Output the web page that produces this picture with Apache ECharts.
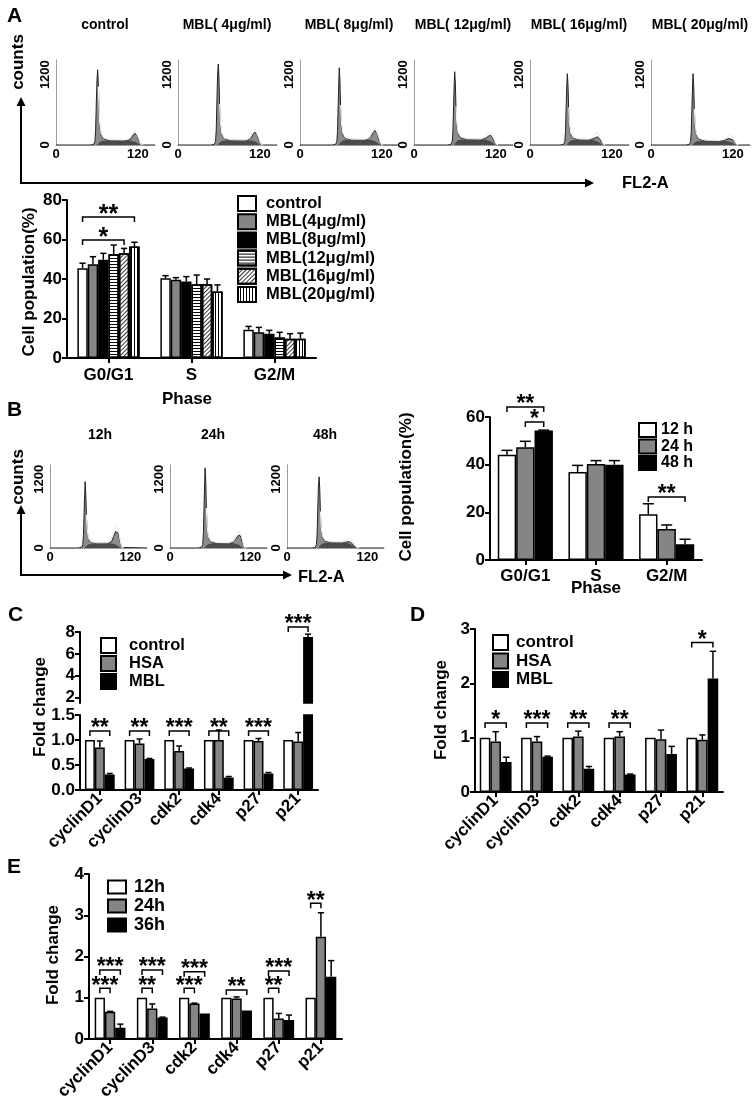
<!DOCTYPE html>
<html><head><meta charset="utf-8">
<script src="https://cdn.jsdelivr.net/npm/echarts@6/dist/echarts.min.js"></script>
<style>html,body{margin:0;padding:0;background:#fff}#c{width:755px;height:1109px}</style>
</head><body><div id="c"></div>
<script>
const FONT = '"Liberation Sans", Arial, Helvetica, sans-serif';
const F = s => 'bold ' + s + 'px ' + FONT;

// ---------- Panel A: flow-cytometry histograms [FL2-A, counts] ----------
const histControl = [[0,0],[50,0],[55,10],[57,60],[58,250],[59,700],[60,1100],[61,1283],[62,1050],[63,600],[64,320],[66,180],[69,110],[75,85],[85,80],[95,78],[105,80],[110,110],[113,170],[116,200],[119,150],[122,60],[125,15],[128,0],[145,0]];
const sphControl  = [[60,0],[63,40],[67,70],[80,78],[100,78],[110,72],[116,55],[120,30],[124,0]];
const fitControl  = [[62,1000],[63,650],[64,380],[66,200],[70,120],[80,90],[100,86],[106,105],[111,180],[116,250],[118,220],[121,120],[124,30],[127,0]];

const histMBL4 = [[0,0],[48,0],[53,10],[55,60],[56,260],[57,750],[58,1200],[59,1383],[60,1150],[61,650],[62,340],[64,190],[67,115],[73,90],[83,85],[93,82],[102,85],[107,120],[110,185],[113,220],[116,165],[119,65],[122,15],[125,0],[145,0]];
const sphMBL4  = [[58,0],[61,42],[65,72],[78,82],[98,82],[107,75],[113,58],[117,30],[121,0]];
const fitMBL4  = [[61,700],[62,400],[64,210],[68,120],[78,92],[98,88],[104,110],[109,200],[113,267],[115,240],[118,130],[121,35],[124,0]];

const histMBL8 = [[0,0],[47,0],[52,10],[54,60],[55,250],[56,720],[57,1150],[57.5,1317],[58.5,1100],[59.5,620],[60.5,330],[62.5,190],[65.5,120],[71,98],[81,95],[91,93],[99,96],[104,140],[107,210],[110,250],[113,190],[116,75],[119,18],[122,0],[145,0]];
const sphMBL8  = [[56.5,0],[59.5,45],[63.5,80],[76,92],[95,92],[104,85],[110,65],[114,35],[118,0]];
const fitMBL8  = [[59.5,680],[60.5,400],[62.5,215],[66.5,130],[76,100],[95,98],[101,125],[106,230],[110,305],[112,275],[115,150],[118,40],[121,0]];

const histMBL12 = [[0,0],[49,0],[54,10],[56,60],[57,240],[58,680],[59,1080],[59.6,1250],[60.6,1040],[61.6,600],[62.6,330],[64.6,200],[67.6,130],[73,105],[83,100],[93,98],[101,100],[106,125],[109,150],[112,167],[115,130],[118,55],[121,12],[124,0],[145,0]];
const sphMBL12  = [[58.6,0],[61.6,50],[65.6,85],[78,97],[97,97],[106,90],[112,65],[116,32],[120,0]];
const fitMBL12  = [[61.6,660],[62.6,390],[64.6,220],[68.6,140],[78,108],[97,104],[103,130],[108,190],[112,222],[114,200],[117,110],[120,30],[123,0]];

const histMBL16 = [[0,0],[44,0],[49,10],[51,55],[52,230],[53,660],[54,1050],[54.7,1217],[55.7,1010],[56.7,580],[57.7,320],[59.7,190],[62.7,125],[68,100],[76,96],[85,95],[91,100],[95,120],[97,135],[99,139],[102,105],[105,45],[108,10],[111,0],[145,0]];
const sphMBL16  = [[53.7,0],[56.7,48],[60.7,82],[70,93],[85,93],[93,85],[99,60],[103,30],[107,0]];
const fitMBL16  = [[56.7,640],[57.7,380],[59.7,210],[63.7,135],[72,104],[86,100],[91,130],[96,195],[99,217],[101,195],[104,105],[107,28],[110,0]];

const histMBL20 = [[0,0],[51,0],[56,10],[58,55],[59,230],[60,660],[61,1050],[61.6,1217],[62.6,1000],[63.6,570],[64.6,300],[66.6,170],[69.6,105],[75,80],[85,76],[95,75],[105,77],[110,92],[114,110],[116.7,117],[119.7,90],[122.7,40],[125.7,8],[128.7,0],[145,0]];
const sphMBL20  = [[60.6,0],[63.6,38],[67.6,65],[80,73],[100,73],[110,68],[116.7,50],[121,25],[125,0]];
const fitMBL20  = [[63.6,620],[64.6,350],[66.6,190],[70.6,115],[80,84],[100,80],[108,100],[113,145],[116.7,167],[119,150],[122,80],[125,20],[128,0]];

// ---------- Panel B: histograms ----------
const hist12h = [[0,0],[42,0],[47,10],[49,55],[50,220],[51,620],[52,1000],[52.5,1160],[53.5,950],[54.5,540],[55.5,290],[57.5,160],[60.5,105],[66,90],[76,87],[86,88],[92,110],[95,200],[98,290],[100,315],[102,260],[104,150],[106,50],[108,10],[110,0],[145,0]];
const sph12h  = [[51.5,0],[54.5,40],[58.5,72],[68,85],[85,85],[92,80],[98,62],[102,32],[106,0]];
const fit12h  = [[54.5,580],[55.5,320],[57.5,175],[61.5,112],[70,93],[85,92],[90,120],[94,230],[97,350],[100,402],[102,350],[104,200],[106,70],[108,15],[110,0]];

const hist24h = [[0,0],[42,0],[47,10],[49,60],[50,270],[51,760],[52,1220],[52.5,1400],[53.5,1150],[54.5,650],[55.5,340],[57.5,185],[60.5,115],[66,95],[76,90],[86,90],[94,100],[98,150],[101,205],[104,227],[106,185],[108,100],[110,30],[112,5],[114,0],[145,0]];
const sph24h  = [[51.5,0],[54.5,42],[58.5,76],[68,88],[88,88],[96,82],[102,62],[106,30],[110,0]];
const fit24h  = [[54.5,700],[55.5,370],[57.5,200],[61.5,125],[70,98],[88,95],[95,125],[99,220],[102,290],[104,315],[106,270],[108,160],[110,55],[112,10],[114,0]];

const hist48h = [[0,0],[37,0],[42,10],[44,60],[45,240],[46,680],[47,1090],[48,1243],[49,1020],[50,600],[51,330],[53,190],[56,125],[62,105],[72,100],[82,98],[87,102],[90,108],[93,110],[96,92],[99,55],[102,20],[105,5],[108,0],[145,0]];
const sph48h  = [[47,0],[50,50],[54,85],[64,98],[82,96],[90,88],[95,65],[100,32],[104,0]];
const fit48h  = [[50,640],[51,360],[53,210],[57,135],[66,110],[82,106],[87,125],[90,155],[93,175],[96,160],[99,105],[102,45],[105,12],[108,0]];

const histTitlesA = ['control','MBL( 4μg/ml)','MBL( 8μg/ml)','MBL( 12μg/ml)','MBL( 16μg/ml)','MBL( 20μg/ml)'];
const histTitlesB = ['12h','24h','48h'];
const histTickX = [0, 120];
const histTickY = [0, 1200];

// ---------- Panel A: bar chart ----------
const phaseCats = ['G0/G1','S','G2/M'];
const doseNames = ['control','MBL(4μg/ml)','MBL(8μg/ml)','MBL(12μg/ml)','MBL(16μg/ml)','MBL(20μg/ml)'];
const aControl = [45.5, 40.4, 14.3], aControlSD = [2.5, 1.3, 1.7];
const aMBL4    = [47.5, 39.6, 13.1], aMBL4SD    = [3.8, 1.1, 2.4];
const aMBL8    = [49.7, 38.7, 12.3], aMBL8SD    = [3.3, 2.5, 1.7];
const aMBL12   = [52.7, 37.4, 10.4], aMBL12SD   = [4.5, 4.6, 2.6];
const aMBL16   = [53.0, 37.4, 9.8],  aMBL16SD   = [2.5, 2.6, 2.5];
const aMBL20   = [56.4, 33.7, 9.8],  aMBL20SD   = [2.2, 3.3, 2.8];
const aTicks = [0, 80, 20];
const sigA = [[0,0,5,71.4,'**'],[0,0,4,59.7,'*']];

// ---------- Panel B: bar chart ----------
const timeNamesB = ['12 h','24 h','48 h'];
const b12h = [44.2, 36.9, 19.2], b12hSD = [1.8, 2.8, 4.4];
const b24h = [47.3, 40.3, 13.0], b24hSD = [2.5, 1.4, 1.7];
const b48h = [54.3, 40.0, 6.6],  b48hSD = [0.2, 1.7, 2.1];
const bTicks = [0, 60, 20];
const sigB = [[0,0,2,64.2,'**'],[0,1,2,57.9,'*'],[2,0,2,26.4,'**']];

// ---------- Panels C, D, E ----------
const geneCats = ['cyclinD1','cyclinD3','cdk2','cdk4','p27','p21'];
const treatNames = ['control','HSA','MBL'];
const cControl = [1,1,1,1,1,1],                  cControlSD = [0,0,0,0,0,0];
const cHSA     = [0.85,0.93,0.78,1.0,0.98,0.97], cHSASD     = [0.13,0.09,0.10,0.20,0.05,0.18];
const cMBL     = [0.31,0.62,0.43,0.25,0.33,7.55],cMBLSD     = [0.02,0.01,0.01,0.02,0.02,0.25];
const cBreak = 1.5;
const cUpperTicks = [2,4,6,8];
const sigClow = [[0,0,2,1.18,'**'],[1,0,2,1.18,'**'],[2,0,2,1.18,'***'],[3,0,2,1.18,'**'],[4,0,2,1.18,'***']];
const sigCup  = [[5,0,2,8.45,'***']];

const dControl = [1,1,1,1,1,1],                   dControlSD = [0,0,0,0,0,0];
const dHSA     = [0.93,0.93,1.02,1.02,0.97,0.96], dHSASD     = [0.18,0.09,0.10,0.09,0.17,0.09];
const dMBL     = [0.55,0.65,0.43,0.32,0.70,2.09], dMBLSD     = [0.09,0.01,0.04,0.01,0.14,0.50];
const sigD = [[0,0,2,1.27,'*'],[1,0,2,1.27,'***'],[2,0,2,1.27,'**'],[3,0,2,1.27,'**'],[5,0,2,2.75,'*']];

const timeNamesE = ['12h','24h','36h'];
const e12h = [1,1,1,1,1,1],                    e12hSD = [0,0,0,0,0,0];
const e24h = [0.66,0.74,0.86,0.98,0.50,2.48],  e24hSD = [0.01,0.11,0.01,0.04,0.12,0.58];
const e36h = [0.27,0.52,0.62,0.69,0.46,1.51],  e36hSD = [0.09,0.01,0.0,0.0,0.12,0.39];
const sigE = [[0,0,2,1.67,'***'],[0,0,1,1.23,'***'],[1,0,2,1.67,'***'],[1,0,1,1.23,'**'],
              [2,0,2,1.63,'***'],[2,0,1,1.23,'***'],[3,0,2,1.19,'**'],[4,0,2,1.65,'***'],[4,0,1,1.23,'**'],[5,0,1,3.29,'**']];

// ---------- styles ----------
const BORDER = {borderColor:'#000', borderWidth:1.5};
const sWhite = Object.assign({color:'#fff'}, BORDER);
const sGray  = Object.assign({color:'#858585'}, BORDER);
const sBlack = Object.assign({color:'#000'}, BORDER);
const sHoriz = Object.assign({color:'#fff', decal:{symbol:'rect', symbolSize:1, dashArrayX:[1,0], dashArrayY:[1,2], color:'#000', rotation:0}}, BORDER);
const sDiag  = Object.assign({color:'#fff', decal:{symbol:'rect', symbolSize:1, dashArrayX:[1,0], dashArrayY:[1,2], color:'#333', rotation:-Math.PI/4}}, BORDER);
const sVert  = Object.assign({color:'#fff', decal:{symbol:'rect', symbolSize:1, dashArrayX:[1,0], dashArrayY:[1,2], color:'#000', rotation:Math.PI/2}}, BORDER);

const option = {animation:false, backgroundColor:'#fff', grid:[], xAxis:[], yAxis:[], series:[], legend:[], graphic:[]};

function addGrid(left, top, width, height) {
  option.grid.push({left, top, width, height, containLabel:false, outerBoundsMode:'none'});
  return option.grid.length - 1;
}

function addHist(left, top, width, height, hist, sph, fit) {
  const gi = addGrid(left, top, width, height);
  const dotted = {show:true, onZero:false, lineStyle:{color:'#8a8a8a', type:'dotted', width:1}};
  const lab = {color:'#000', fontFamily:FONT, fontWeight:'bold', fontSize:13, formatter:v => String(v)};
  option.xAxis.push({gridIndex:gi, type:'value', min:0, max:145, axisLine:dotted, axisTick:{show:false}, splitLine:{show:false},
    axisLabel:Object.assign({customValues:histTickX, margin:3}, lab)});
  option.yAxis.push({gridIndex:gi, type:'value', min:0, max:1450, axisLine:dotted, axisTick:{show:false}, splitLine:{show:false},
    axisLabel:Object.assign({customValues:histTickY, rotate:90, margin:4}, lab)});
  const xi = option.xAxis.length - 1, yi = option.yAxis.length - 1;
  const base = {type:'line', xAxisIndex:xi, yAxisIndex:yi, symbol:'none', showSymbol:false, silent:true, smooth:false};
  option.series.push(Object.assign({}, base, {data:hist, lineStyle:{color:'#222', width:1}, areaStyle:{color:'#8c8c8c', opacity:1}, z:2}));
  option.series.push(Object.assign({}, base, {data:sph, lineStyle:{width:0}, areaStyle:{color:'#4a4a4a', opacity:1}, z:3}));
  option.series.push(Object.assign({}, base, {data:fit, lineStyle:{color:'#eeeeee', width:1.2}, z:4}));
  return gi;
}

function addBarGrid(left, top, width, height, cats, yOpt, xLabelOpt, showX) {
  const gi = addGrid(left, top, width, height);
  const lab = {color:'#000', fontFamily:FONT, fontWeight:'bold', fontSize:17};
  option.xAxis.push({gridIndex:gi, type:'category', data:cats, show:showX !== false,
    axisLine:{show:true, onZero:false, lineStyle:{color:'#000', width:2}},
    axisTick:{show:true, alignWithLabel:true, interval:0, length:5, lineStyle:{color:'#000', width:2}},
    axisLabel:Object.assign({interval:0, margin:8}, lab, xLabelOpt || {}),
    splitLine:{show:false}});
  const y = {gridIndex:gi, type:'value', min:yOpt.min, max:yOpt.max,
    axisLine:{show:true, onZero:false, lineStyle:{color:'#000', width:2}},
    axisTick:{show:true, length:5, lineStyle:{color:'#000', width:2}},
    axisLabel:Object.assign({margin:5}, lab), splitLine:{show:false}};
  if (yOpt.interval) y.interval = yOpt.interval;
  if (yOpt.custom) { y.axisLabel.customValues = yOpt.custom; y.axisTick.customValues = yOpt.custom; }
  if (yOpt.formatter) y.axisLabel.formatter = yOpt.formatter;
  option.yAxis.push(y);
  return [option.xAxis.length - 1, option.yAxis.length - 1];
}

function addBars(ax, names, means, styles, gap, mapFn, named) {
  names.forEach((n, i) => {
    const s = {type:'bar', xAxisIndex:ax[0], yAxisIndex:ax[1], data: mapFn ? means[i].map(mapFn) : means[i],
      barGap:'0%', barCategoryGap:(gap * 100) + '%', itemStyle:styles[i], silent:true, z:2};
    if (named !== false) s.name = n;
    option.series.push(s);
  });
}

function slotX(api, c, s, N, gap) {
  const band = api.size([1, 0])[0];
  const usable = band * (1 - gap);
  const w = usable / N;
  const cx = api.coord([c, 0])[0];
  return {x: cx - usable / 2 + w * (s + 0.5), w};
}

function addErr(ax, means, sds, gap, keep) {
  const N = means.length, data = [];
  means.forEach((arr, s) => arr.forEach((v, c) => {
    if (sds[s][c] > 0 && (!keep || keep(v))) data.push([c, s, v, sds[s][c]]);
  }));
  option.series.push({type:'custom', xAxisIndex:ax[0], yAxisIndex:ax[1], data, encode:{x:0, y:2}, clip:false, z:5, silent:true,
    renderItem:(p, api) => {
      const c = api.value(0), s = api.value(1), v = api.value(2), sd = api.value(3);
      const sl = slotX(api, c, s, N, gap);
      const y0 = api.coord([c, v])[1], y1 = api.coord([c, v + sd])[1];
      const cap = sl.w * 0.3;
      const st = {stroke:'#000', lineWidth:1.5};
      return {type:'group', children:[
        {type:'line', shape:{x1:sl.x, y1:y0, x2:sl.x, y2:y1}, style:st},
        {type:'line', shape:{x1:sl.x - cap, y1:y1, x2:sl.x + cap, y2:y1}, style:st}
      ]};
    }});
}

function addSig(ax, sig, N, gap, fs) {
  option.series.push({type:'custom', xAxisIndex:ax[0], yAxisIndex:ax[1], data:sig.map(d => [d[0], d[3], d[1], d[2]]), encode:{x:0, y:1},
    clip:false, z:6, silent:true,
    renderItem:(p, api) => {
      const d = sig[p.dataIndex];
      const a = slotX(api, d[0], d[1], N, gap).x, b = slotX(api, d[0], d[2], N, gap).x;
      const y = api.coord([d[0], d[3]])[1];
      return {type:'group', children:[
        {type:'polyline', shape:{points:[[a, y + 5], [a, y], [b, y], [b, y + 5]]}, style:{stroke:'#000', lineWidth:1.5, fill:null}},
        {type:'text', style:{text:d[4], x:(a + b) / 2, y:y - 2, textAlign:'center', textVerticalAlign:'middle', font:F(fs), fill:'#000'}}
      ]};
    }});
}

function addLegend(names, left, top, iw, ih, gap, fs, tpad) {
  option.legend.push({data:names, left, top, orient:'vertical', itemWidth:iw, itemHeight:ih, itemGap:gap, padding:0,
    icon:'rect', selectedMode:false,
    textStyle:{fontFamily:FONT, fontWeight:'bold', fontSize:fs, color:'#000', padding:[0, 0, 0, tpad]}});
}

function txt(x, y, text, size, align, rot) {
  option.graphic.push({type:'text', x, y, rotation:rot || 0, silent:true,
    style:{text, font:F(size), fill:'#000', textAlign:align || 'center', textVerticalAlign:'middle', align:align || 'center', verticalAlign:'middle'}});
}
function line(pts, w) {
  option.graphic.push({type:'polyline', silent:true, shape:{points:pts}, style:{stroke:'#000', lineWidth:w || 2, fill:null}});
}
function tri(pts) {
  option.graphic.push({type:'polygon', silent:true, shape:{points:pts}, style:{fill:'#000'}});
}

// ---------- Panel A histograms ----------
const histA = [[histControl, sphControl, fitControl],[histMBL4, sphMBL4, fitMBL4],[histMBL8, sphMBL8, fitMBL8],
               [histMBL12, sphMBL12, fitMBL12],[histMBL16, sphMBL16, fitMBL16],[histMBL20, sphMBL20, fitMBL20]];
const histALeft = [56, 178, 300, 414, 530, 651];
histA.forEach((h, i) => {
  addHist(histALeft[i], 60, 99, 85, h[0], h[1], h[2]);
  txt(histALeft[i] + 49, 25, histTitlesA[i], 14);
});
// ---------- Panel B histograms ----------
const histB = [[hist12h, sph12h, fit12h],[hist24h, sph24h, fit24h],[hist48h, sph48h, fit48h]];
const histBLeft = [50, 170, 287];
const histBTitleX = [100, 213, 325];
histB.forEach((h, i) => {
  addHist(histBLeft[i], 465, 97, 83, h[0], h[1], h[2]);
  txt(histBTitleX[i], 435, histTitlesB[i], 14);
});

// ---------- Panel A bars ----------
const gapA = 0.25;
const axA = addBarGrid(67, 200, 249, 158, phaseCats, {min:aTicks[0], max:aTicks[1], interval:aTicks[2]}, {margin:9});
const meansA = [aControl, aMBL4, aMBL8, aMBL12, aMBL16, aMBL20];
const sdsA = [aControlSD, aMBL4SD, aMBL8SD, aMBL12SD, aMBL16SD, aMBL20SD];
addBars(axA, doseNames, meansA, [sWhite, sGray, sBlack, sHoriz, sDiag, sVert], gapA);
addErr(axA, meansA, sdsA, gapA);
addSig(axA, sigA, 6, gapA, 25);
addLegend(doseNames, 237, 195, 18, 15, 1.2, 16.5, 5);

// ---------- Panel B bars ----------
const gapB = 0.22;
const axB = addBarGrid(490, 417, 212, 143, phaseCats, {min:bTicks[0], max:bTicks[1], interval:bTicks[2]}, {margin:8});
const meansB = [b12h, b24h, b48h], sdsB = [b12hSD, b24hSD, b48hSD];
addBars(axB, timeNamesB, meansB, [sWhite, sGray, sBlack], gapB);
addErr(axB, meansB, sdsB, gapB);
addSig(axB, sigB, 3, gapB, 23);
addLegend(timeNamesB, 638, 422, 17, 14, 0.5, 16, 0);

// ---------- Panel C (broken axis) ----------
const gapC = 0.25;
const meansC = [cControl, cHSA, cMBL], sdsC = [cControlSD, cHSASD, cMBLSD];
const axClow = addBarGrid(80, 715, 238, 75, geneCats, {min:0, max:cBreak, interval:0.5, formatter:v => v.toFixed(1)}, {rotate:45, margin:6});
addBars(axClow, treatNames, meansC, [sWhite, sGray, sBlack], gapC);
addErr(axClow, meansC, sdsC, gapC, v => v < cBreak);
addSig(axClow, sigClow, 3, gapC, 23);
const axCup = addBarGrid(80, 632, 238, 71, geneCats, {min:cBreak, max:8, custom:cUpperTicks}, {}, false);
addBars(axCup, treatNames, meansC, [sWhite, sGray, sBlack], gapC, v => (v > cBreak ? v : '-'), false);
addErr(axCup, meansC, sdsC, gapC, v => v >= cBreak);
addSig(axCup, sigCup, 3, gapC, 23);
addLegend(treatNames, 100, 637, 15, 15, 1, 16.5, 8);

// ---------- Panel D ----------
const gapD = 0.23;
const meansD = [dControl, dHSA, dMBL], sdsD = [dControlSD, dHSASD, dMBLSD];
const axD = addBarGrid(475, 629, 248, 163, geneCats, {min:0, max:3, interval:1}, {rotate:45, margin:6});
addBars(axD, treatNames, meansD, [sWhite, sGray, sBlack], gapD, null, false);
addErr(axD, meansD, sdsD, gapD);
addSig(axD, sigD, 3, gapD, 23);
addLegend(treatNames, 492, 634, 15, 15, 1.5, 17, 3);

// ---------- Panel E ----------
const gapE = 0.27;
const meansE = [e12h, e24h, e36h], sdsE = [e12hSD, e24hSD, e36hSD];
const axE = addBarGrid(89, 874, 253, 165, geneCats, {min:0, max:4, interval:1}, {rotate:45, margin:6});
addBars(axE, timeNamesE, meansE, [sWhite, sGray, sBlack], gapE);
addErr(axE, meansE, sdsE, gapE);
addSig(axE, sigE, 3, gapE, 23);
addLegend(timeNamesE, 107, 878, 18, 13, 1, 18, 3);

// ---------- annotations ----------
txt(7, 16, 'A', 21, 'left'); txt(7, 410, 'B', 21, 'left'); txt(8, 615, 'C', 21, 'left');
txt(410, 615, 'D', 21, 'left'); txt(7, 867, 'E', 21, 'left');
// flow axes arrows
line([[21, 104], [21, 183], [586, 183]]); tri([[21, 97], [16.5, 106], [25.5, 106]]); tri([[594, 183], [585, 178.5], [585, 187.5]]);
txt(18, 62, 'counts', 17, 'center', Math.PI / 2); txt(622, 183, 'FL2-A', 16.5, 'left');
line([[21, 512], [21, 575], [284, 575]]); tri([[21, 505], [16.5, 514], [25.5, 514]]); tri([[292, 575], [283, 570.5], [283, 579.5]]);
txt(18, 477, 'counts', 17, 'center', Math.PI / 2); txt(298, 577, 'FL2-A', 16.5, 'left');
// axis titles
txt(29, 282, 'Cell population(%)', 17, 'center', Math.PI / 2); txt(187, 399, 'Phase', 17);
txt(406, 487, 'Cell population(%)', 17, 'center', Math.PI / 2); txt(596, 588, 'Phase', 17);
txt(40, 707, 'Fold change', 17, 'center', Math.PI / 2);
txt(441, 710, 'Fold change', 17, 'center', Math.PI / 2);
txt(53, 955, 'Fold change', 17, 'center', Math.PI / 2);

const chart = echarts.init(document.getElementById('c'), null, {renderer:'canvas', width:755, height:1109});
chart.setOption(option);
</script></body></html>
